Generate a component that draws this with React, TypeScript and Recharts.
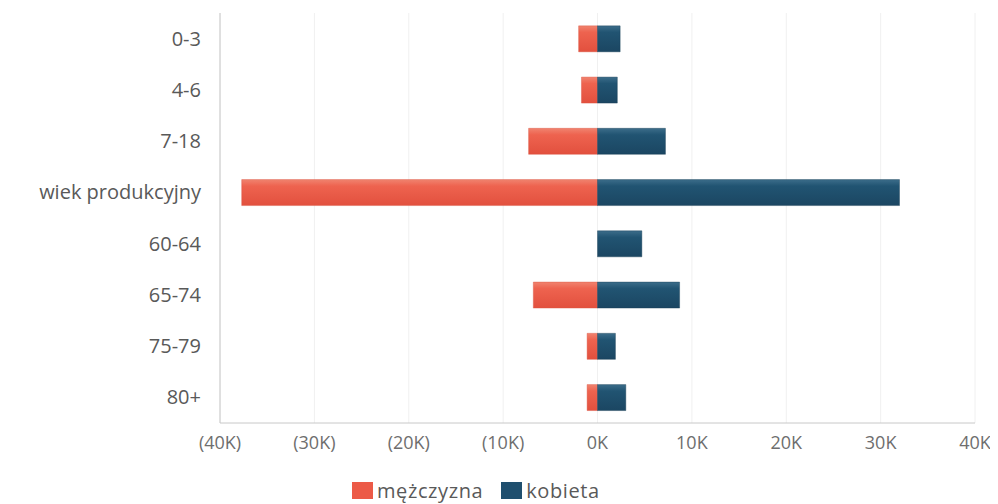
import React from "react";
import { BarChart, Bar, XAxis, YAxis, CartesianGrid, Legend } from "recharts";

const categories = ["0-3", "4-6", "7-18", "wiek produkcyjny", "60-64", "65-74", "75-79", "80+"];
const menValues = [2000, 1700, 7300, 37700, 0, 6800, 1100, 1100];
const womenValues = [2400, 2100, 7200, 32000, 4700, 8700, 1900, 3000];
const xTicks = [-40000, -30000, -20000, -10000, 0, 10000, 20000, 30000, 40000];

const MEN_COLOR = "#EC5A47";
const WOMEN_COLOR = "#1F4F6E";

const data = categories.map((name, i) => ({
  name,
  men: -menValues[i],
  women: womenValues[i],
}));

const fmt = (v: number) => {
  const k = Math.abs(v) / 1000;
  return v < 0 ? `(${k}K)` : `${k}K`;
};

const LegendContent = () => (
  <div
    style={{
      display: "flex",
      alignItems: "center",
      justifyContent: "flex-start",
      paddingLeft: 344,
      fontFamily: "Open Sans, sans-serif",
      fontSize: 20,
      letterSpacing: 0.6,
      color: "#595959",
      height: 26,
    }}
  >
    <span style={{ display: "inline-block", width: 21, height: 17, background: MEN_COLOR, marginRight: 4 }} />
    <span style={{ marginRight: 18 }}>mężczyzna</span>
    <span style={{ display: "inline-block", width: 21, height: 17, background: WOMEN_COLOR, marginRight: 4 }} />
    <span>kobieta</span>
  </div>
);

export default function App() {
  return (
    <div style={{ width: 990, height: 496, background: "#fff" }}>
      <style>{"html,body{overflow:hidden;}"}</style>
      <BarChart
        width={990}
        height={496}
        data={data}
        layout="vertical"
        stackOffset="sign"
        barCategoryGap="25%"
        margin={{ top: 5, right: 23, left: 0, bottom: 1 }}
      >
        <defs>
          <linearGradient id="gMen" x1="0" y1="0" x2="0" y2="1">
            <stop offset="0%" stopColor="#F0836F" />
            <stop offset="25%" stopColor="#EE634F" />
            <stop offset="100%" stopColor="#E2503E" />
          </linearGradient>
          <linearGradient id="gWomen" x1="0" y1="0" x2="0" y2="1">
            <stop offset="0%" stopColor="#3C6D8A" />
            <stop offset="25%" stopColor="#215472" />
            <stop offset="100%" stopColor="#1B4662" />
          </linearGradient>
        </defs>
        <CartesianGrid horizontal={false} stroke="#f0f0f0" />
        <XAxis
          type="number"
          domain={[-40000, 40000]}
          ticks={xTicks}
          tickFormatter={fmt}
          axisLine={{ stroke: "#c8c8c8" }}
          tickLine={false}
          tick={{ fill: "#6e6e6e", fontSize: 18, fontFamily: "Open Sans, sans-serif" }}
          tickMargin={7}
          height={54}
          interval={0}
        />
        <YAxis
          type="category"
          dataKey="name"
          width={212}
          axisLine={{ stroke: "#c8c8c8" }}
          tickLine={false}
          tickSize={0}
          tickMargin={19}
          tick={{ fill: "#595959", fontSize: 20, fontFamily: "Open Sans, sans-serif" }}
        />
        <Legend verticalAlign="bottom" content={<LegendContent />} wrapperStyle={{ left: 0, width: 990 }} />
        <Bar dataKey="men" name="mężczyzna" stackId="a" fill="url(#gMen)" stroke="#D9503F" strokeOpacity={0.4} isAnimationActive={false} />
        <Bar dataKey="women" name="kobieta" stackId="a" fill="url(#gWomen)" stroke="#183E56" strokeOpacity={0.4} isAnimationActive={false} />
      </BarChart>
    </div>
  );
}
